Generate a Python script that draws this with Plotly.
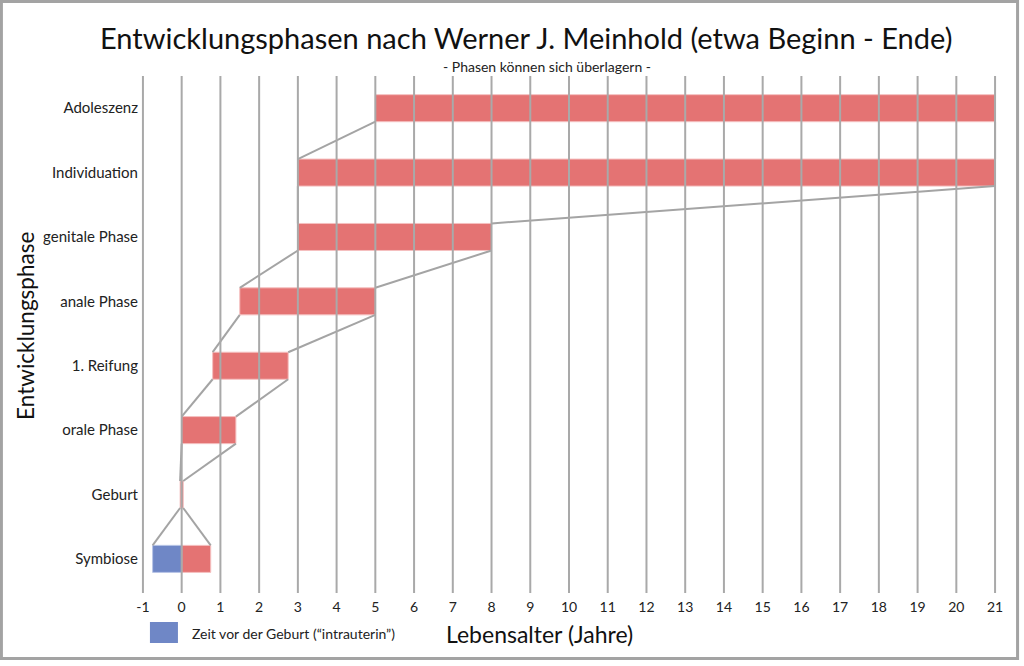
import plotly.graph_objects as go

# ---------------- data ----------------
phases = ["Symbiose", "Geburt", "orale Phase", "1. Reifung", "anale Phase",
          "genitale Phase", "Individuation", "Adoleszenz"]
phase_start = [0, -0.04, 0, 0.8, 1.5, 3, 3, 5]
phase_end = [0.75, 0.04, 1.4, 2.75, 5, 8, 21, 21]
prenatal_phase = ["Symbiose"]
prenatal_start = [-0.75]
prenatal_end = [0]
x_ticks = list(range(-1, 22))

title_text = "Entwicklungsphasen nach Werner J. Meinhold (etwa Beginn - Ende)"
subtitle_text = "- Phasen können sich überlagern -"
x_title = "Lebensalter (Jahre)"
y_title = "Entwicklungsphase"
legend_text = "Zeit vor der Geburt (“intrauterin”)"

# ---------------- style ----------------
RED = "#e47373"
BLUE = "#6f87c6"
EDGE = "#f5c0c0"
GRID = "#a9a9a9"
CONN = "#a4a4a4"
FONT = "Lato"
BAR_W = 0.42

W, H = 1024, 666
XR = [-1.05, 21.05]
YR = [-0.53, 7.5]
# plot area in pixels
px_per_unit = (995 - 143) / 22.0
L = 143 - (-1 - XR[0]) * px_per_unit
PW = (XR[1] - XR[0]) * px_per_unit
T = 76
PH = 517
mr = W - L - PW
mb = H - T - PH


def px(xp):
    return (xp - L) / PW


def py(yp):
    return 1 - (yp - T) / PH


ypos = list(range(len(phases)))

fig = go.Figure()

# main bars
fig.add_trace(go.Bar(
    y=ypos,
    x=[e - s for s, e in zip(phase_start, phase_end)],
    base=phase_start,
    orientation="h",
    width=BAR_W,
    marker=dict(color=RED, line=dict(color=EDGE, width=1)),
    showlegend=False,
    hoverinfo="skip",
))

# prenatal part
pre_y = [phases.index(p) for p in prenatal_phase]
fig.add_trace(go.Bar(
    y=pre_y,
    x=[e - s for s, e in zip(prenatal_start, prenatal_end)],
    base=prenatal_start,
    orientation="h",
    width=BAR_W,
    marker=dict(color=BLUE, line=dict(color="#b8c4e6", width=1)),
    showlegend=False,
    hoverinfo="skip",
))

# overall extent of each phase (incl. prenatal part)
left = list(phase_start)
right = list(phase_end)
for p, s, e in zip(prenatal_phase, prenatal_start, prenatal_end):
    i = phases.index(p)
    left[i] = min(left[i], s)
    right[i] = max(right[i], e)

# connectors between consecutive phases
cx, cy = [], []
for i in range(len(phases) - 1):
    y_top = i + BAR_W / 2
    y_bot = i + 1 - BAR_W / 2
    cx += [left[i], left[i + 1], None, right[i], right[i + 1], None]
    cy += [y_top, y_bot, None, y_top, y_bot, None]
fig.add_trace(go.Scatter(
    x=cx, y=cy, mode="lines",
    line=dict(color=CONN, width=2),
    showlegend=False, hoverinfo="skip",
))

shapes = []
# vertical grid lines above the bars
for t in x_ticks:
    shapes.append(dict(type="line", xref="x", yref="paper", x0=t, x1=t, y0=0, y1=1,
                       line=dict(color=GRID, width=2), layer="above"))
# frame around the whole picture
shapes.append(dict(type="rect", xref="paper", yref="paper",
                   x0=px(1.5), x1=px(1017.5), y0=py(1.5), y1=py(658.5),
                   line=dict(color="#a3a3a3", width=3), fillcolor="rgba(0,0,0,0)"))
# legend swatch
shapes.append(dict(type="rect", xref="paper", yref="paper",
                   x0=px(150), x1=px(178), y0=py(643), y1=py(622),
                   line=dict(width=0), fillcolor=BLUE))

annotations = [
    dict(text=title_text, x=px(526), y=py(38), xref="paper", yref="paper",
         showarrow=False, xanchor="center", yanchor="middle",
         font=dict(family=FONT, size=29, color="#111111")),
    dict(text=subtitle_text, x=px(547), y=py(67), xref="paper", yref="paper",
         showarrow=False, xanchor="center", yanchor="middle",
         font=dict(family=FONT, size=14, color="#222222")),
    dict(text=x_title, x=px(540), y=py(634), xref="paper", yref="paper",
         showarrow=False, xanchor="center", yanchor="middle",
         font=dict(family=FONT, size=23, color="#111111")),
    dict(text=y_title, x=px(25), y=py(326), xref="paper", yref="paper",
         showarrow=False, xanchor="center", yanchor="middle", textangle=-90,
         font=dict(family=FONT, size=22.5, color="#111111")),
    dict(text=legend_text, x=px(190), y=py(633), xref="paper", yref="paper",
         showarrow=False, xanchor="left", yanchor="middle",
         font=dict(family=FONT, size=14, color="#222222")),
]

fig.update_layout(
    width=W, height=H,
    margin=dict(l=L, r=mr, t=T, b=mb, pad=0),
    paper_bgcolor="white", plot_bgcolor="white",
    barmode="overlay",
    showlegend=False,
    shapes=shapes,
    annotations=annotations,
    xaxis=dict(range=XR, tickvals=x_ticks, ticktext=[str(t) for t in x_ticks],
               showgrid=False, zeroline=False, showline=False, ticks="",
               tickfont=dict(family=FONT, size=14, color="#222222"),
               ticklabelstandoff=4, fixedrange=True),
    yaxis=dict(range=YR, tickvals=ypos, ticktext=phases,
               showgrid=False, zeroline=False, showline=False, ticks="",
               tickfont=dict(family=FONT, size=15, color="#222222"),
               ticklabelstandoff=2, fixedrange=True),
)

fig.write_html("out.html", config={"displayModeBar": False},
               post_script="document.body.style.margin='0';document.body.style.overflow='hidden';")
